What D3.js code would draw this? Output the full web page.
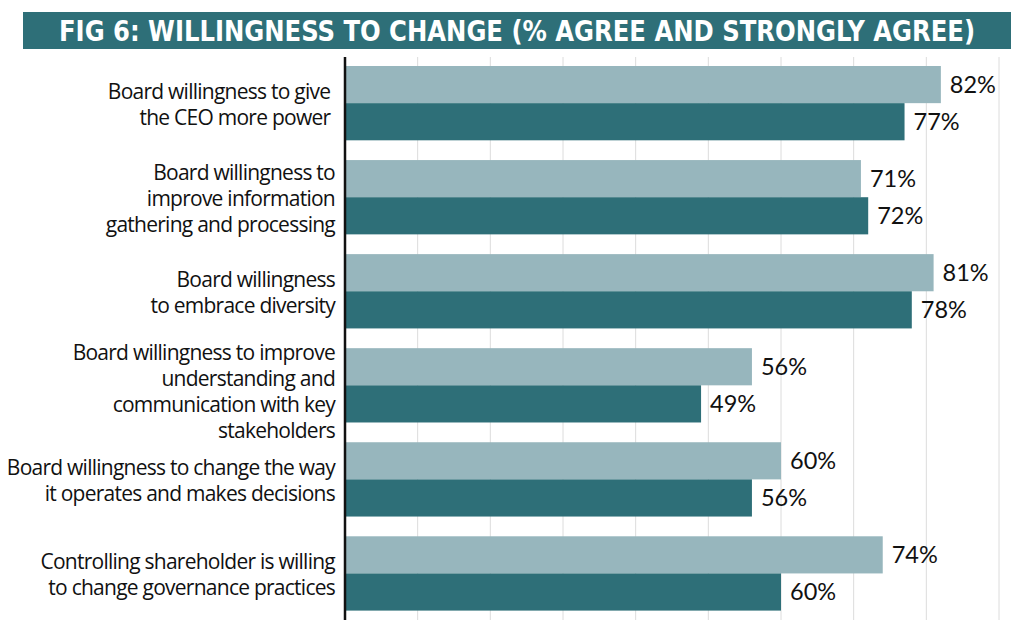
<!DOCTYPE html>
<html><head><meta charset="utf-8">
<script src="https://cdn.jsdelivr.net/npm/d3@7"></script>
<style>
html,body{margin:0;padding:0;background:#fff;}
svg{display:block;}
</style></head>
<body>
<svg id="chart" width="1024" height="633"></svg>
<script>
const title = "FIG 6: WILLINGNESS TO CHANGE (% AGREE AND STRONGLY AGREE)";
const categories = [
  ["Board willingness to give ", "the CEO more power "],
  ["Board willingness to", "improve information", "gathering and processing"],
  ["Board willingness", "to embrace diversity"],
  ["Board willingness to improve", "understanding and", "communication with key", "stakeholders"],
  ["Board willingness to change the way", "it operates and makes decisions"],
  ["Controlling shareholder is willing", "to change governance practices"]
];
const seriesLight = [82, 71, 81, 56, 60, 74];
const seriesDark  = [77, 72, 78, 49, 56, 60];
const gridTicks = [10, 20, 30, 40, 50, 60, 70, 80, 90];

const svg = d3.select("#chart");
const teal = "#2e6f78", light = "#97b6bd";

// Title banner
svg.append("rect").attr("x", 23).attr("y", 12).attr("width", 988).attr("height", 37).attr("fill", teal);
svg.append("text").attr("x", 517).attr("y", 40.5).attr("text-anchor", "middle")
  .attr("fill", "#fff").attr("font-family", "'DejaVu Sans Condensed','DejaVu Sans',sans-serif")
  .attr("font-weight", "bold").attr("font-size", 28)
  .attr("textLength", 916).attr("lengthAdjust", "spacingAndGlyphs")
  .text(title);

const x = d3.scaleLinear().domain([0, 90]).range([345, 999]);
const idx = d3.range(categories.length);
const y = d3.scaleBand().domain(idx).range([56.6, 620]).paddingInner(0.21).paddingOuter(0.1);
const sub = d3.scaleBand().domain(["light", "dark"]).range([0, y.bandwidth()]);

// gridlines
svg.append("g").selectAll("line").data(gridTicks).join("line")
  .attr("x1", d => x(d)).attr("x2", d => x(d))
  .attr("y1", 57).attr("y2", 620)
  .attr("stroke", "#dcdcdc").attr("stroke-width", 1);

const groups = svg.append("g").selectAll("g").data(idx).join("g")
  .attr("transform", i => `translate(0,${y(i)})`);

const series = [["light", seriesLight, light], ["dark", seriesDark, teal]];
series.forEach(([key, vals, col]) => {
  groups.append("rect")
    .attr("x", x(0)).attr("y", sub(key))
    .attr("width", i => x(vals[i]) - x(0)).attr("height", sub.bandwidth())
    .attr("fill", col);
  groups.append("text")
    .attr("x", i => x(vals[i]) + 9)
    .attr("y", sub(key) + sub.bandwidth() / 2)
    .attr("dy", "0.36em")
    .attr("font-family", "Lato, 'Open Sans', sans-serif")
    .attr("font-size", 23.5).attr("fill", "#111")
    .text(i => vals[i] + "%");
});

// category labels
const lineH = 26;
groups.append("text")
  .attr("font-family", "'Open Sans', sans-serif").attr("font-size", 21)
  .attr("letter-spacing", "-0.75px")
  .attr("fill", "#111").attr("text-anchor", "end")
  .style("white-space", "pre")
  .each(function(i) {
    const lines = categories[i];
    const n = lines.length;
    const c = y.bandwidth() / 2 + (i === 3 ? 6 : 1);
    d3.select(this).selectAll("tspan").data(lines).join("tspan")
      .attr("x", 335)
      .attr("y", (d, k) => c + (k - (n - 1) / 2) * lineH)
      .attr("dy", "0.35em")
      .text(d => d);
  });

// axis line
svg.append("line").attr("x1", 345).attr("x2", 345).attr("y1", 57).attr("y2", 620)
  .attr("stroke", "#111").attr("stroke-width", 2.5);
</script>
</body></html>
